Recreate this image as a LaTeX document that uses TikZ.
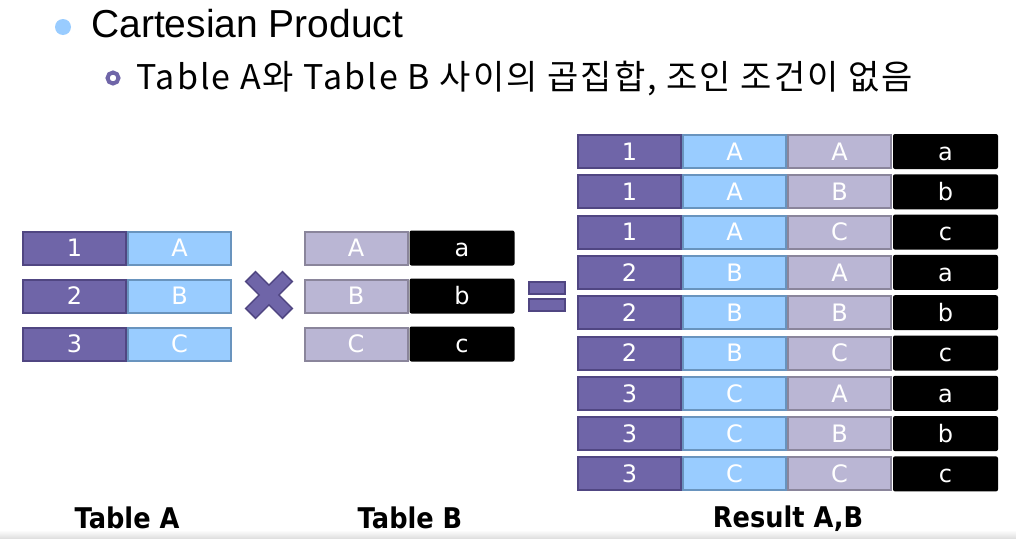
\documentclass[tikz,border=0pt]{standalone}
\usepackage{fontspec}
\setmainfont{DejaVu Sans}
\newfontfamily\krfont[LetterSpace=6]{Noto Sans CJK KR}
\newfontfamily\headfont{Liberation Sans}
\newfontfamily\titlefont[FakeStretch=0.9]{DejaVu Sans}
\usetikzlibrary{positioning}
\definecolor{keypurple}{RGB}{111,101,168}
\definecolor{keypurpleline}{RGB}{80,70,130}
\definecolor{valblue}{RGB}{153,204,255}
\definecolor{valblueline}{RGB}{105,148,190}
\definecolor{tbllav}{RGB}{186,182,212}
\definecolor{tbllavline}{RGB}{138,133,155}

\begin{document}
\begin{tikzpicture}[x=1pt, y=-1pt,
    cell/.style={rectangle, minimum width=103pt, minimum height=33pt, inner sep=0pt,
                 text height=17.5pt, text depth=0pt,
                 line width=2pt, text=white, font=\fontsize{24}{24}\selectfont},
    numcell/.style={cell, fill=keypurple, draw=keypurpleline},
    upcell/.style={cell, fill=valblue, draw=valblueline},
    lavcell/.style={cell, fill=tbllav, draw=tbllavline},
    lowcell/.style={cell, fill=black, minimum width=105pt, minimum height=35pt, rounded corners=2pt},
    tbltitle/.style={font=\titlefont\bfseries\fontsize{28.5}{28.5}\selectfont, anchor=base}
]

\useasboundingbox (0,0) rectangle (1016,538);
\shade[top color=white, bottom color=black!12] (0,530) rectangle (1016,538);

% heading
\fill[valblue] (63,27) circle (8);
\node[anchor=base west, inner sep=0pt, font=\headfont\fontsize{39}{39}\selectfont] (head) at (91,37) {Cartesian Product};
\draw[keypurple, line width=4pt] (113,78) circle (5.5);
\node[anchor=base west, inner sep=0pt, font=\krfont\fontsize{34}{34}\selectfont] (sub) at (136,89) {Table A와 Table B 사이의 곱집합, 조인 조건이 없음};

% Table A
\foreach \k/\v [count=\i from 0] in {1/A, 2/B, 3/C} {
    \node[numcell] (a\k) at (74.5, 248+48*\i) {\k};
    \node[upcell, right=0pt of a\k] (av\k) {\v};
}
\node[tbltitle] (tA) at (127,528) {Table A};

% cross
\begin{scope}[shift={(269,295)}, rotate=45]
  \filldraw[fill=keypurple, draw=keypurpleline, line width=1.5pt]
    (-26,-7) -- (-7,-7) -- (-7,-26) -- (7,-26) -- (7,-7) -- (26,-7)
    -- (26,7) -- (7,7) -- (7,26) -- (-7,26) -- (-7,7) -- (-26,7) -- cycle;
\end{scope}

% Table B
\foreach \k/\v [count=\i from 0] in {A/a, B/b, C/c} {
    \node[lavcell] (b\k) at (356, 248+48*\i) {\k};
    \node[lowcell, right=0pt of b\k] (bv\k) {\v};
}
\node[tbltitle] (tB) at (410,528) {Table B};

% equals
\filldraw[fill=keypurple, draw=keypurpleline, line width=1.5pt] (529,282) rectangle (565,294);
\filldraw[fill=keypurple, draw=keypurpleline, line width=1.5pt] (529,299) rectangle (565,311);

% Result A,B
\foreach \n/\k/\l/\v [count=\i from 0] in {1/A/A/a, 1/A/B/b, 1/A/C/c, 2/B/A/a, 2/B/B/b, 2/B/C/c, 3/C/A/a, 3/C/B/b, 3/C/C/c} {
    \node[numcell] (r\i) at (629.5, 151.5+40.3*\i) {\n};
    \node[upcell, right=0pt of r\i] (ru\i) {\k};
    \node[lavcell, right=0pt of ru\i] (rl\i) {\l};
    \node[lowcell, right=0pt of rl\i] (rv\i) {\v};
}
\node[tbltitle] (tR) at (788,527) {Result A,B};

\end{tikzpicture}
\end{document}
